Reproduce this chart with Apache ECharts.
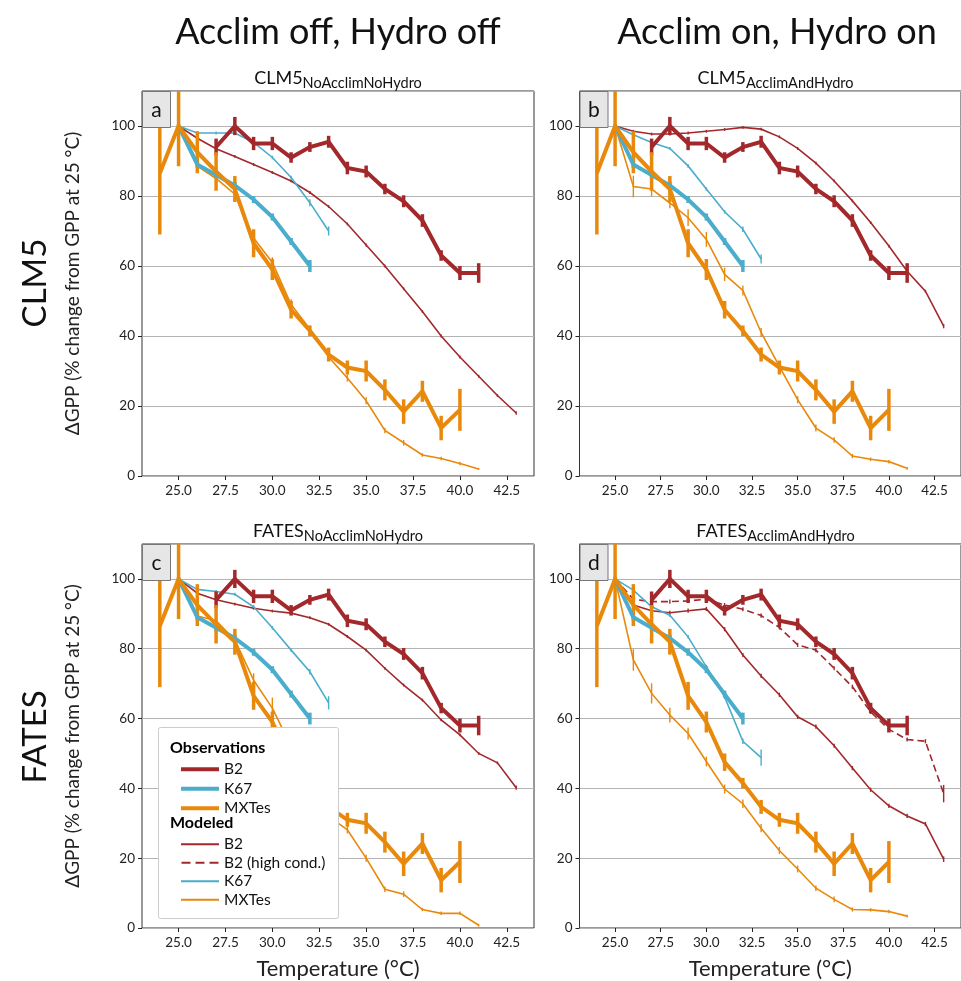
<!DOCTYPE html>
<html>
<head>
<meta charset="utf-8">
<script src="https://cdn.jsdelivr.net/npm/echarts@6/dist/echarts.min.js"></script>
<style>html,body{margin:0;padding:0;background:#fff}#c{width:961px;height:981px}</style>
</head>
<body>
<div id="c"></div>
<script>
// ---------- data ----------
const xTicks = [25, 27.5, 30, 32.5, 35, 37.5, 40, 42.5];
const yTicks = [0, 20, 40, 60, 80, 100];

// Observations (same in every panel)
const obsB2T = [27, 28, 29, 30, 31, 32, 33, 34, 35, 36, 37, 38, 39, 40, 41];
const obsB2 = [94, 100, 95, 95, 91, 94, 95.5, 88, 87, 82, 78.5, 73, 63, 58, 58];
const obsB2Err = [2.4, 2.6, 1.9, 1.9, 1.5, 1.4, 1.7, 1.8, 1.7, 1.5, 1.7, 1.8, 1.5, 2, 2.8];
const obsK67T = [25, 26, 27, 28, 29, 30, 31, 32];
const obsK67 = [100, 89, 86, 83, 79, 74, 67, 60];
const obsK67Err = [0.5, 1, 1, 1, 1, 1, 1, 1.7];
const obsMXT = [24, 25, 26, 27, 28, 29, 30, 31, 32, 33, 34, 35, 36, 37, 38, 39, 40];
const obsMX = [86.5, 100, 92.5, 87, 82, 66.5, 59, 47.5, 41.5, 34.7, 31, 30, 24.6, 18.4, 24.2, 13.7, 18.9];
const obsMXErr = [17.5, 11.5, 6, 5.5, 3.7, 4, 3, 2.5, 1.5, 2, 2, 3, 3, 3.5, 3, 3.5, 6];

// Modeled temperatures
const tB2 = [25, 26, 27, 28, 29, 30, 31, 32, 33, 34, 35, 36, 37, 38, 39, 40, 41, 42, 43];
const tK67 = [25, 26, 27, 28, 29, 30, 31, 32, 33];
const tMX = [25, 26, 27, 28, 29, 30, 31, 32, 33, 34, 35, 36, 37, 38, 39, 40, 41];

// Panel a: CLM5 NoAcclimNoHydro
const aB2 = [100, 96.5, 93.5, 91.3, 89, 86.7, 84.3, 81, 77, 72, 66, 60, 53.5, 47, 40, 34, 28.5, 23, 18];
const aB2Err = [0, 0.4, 0.4, 0.4, 0.4, 0.4, 0.4, 0.4, 0.4, 0.4, 0.4, 0.4, 0.4, 0.4, 0.4, 0.4, 0.4, 0.4, 0.5];
const aK67 = [100, 98, 98, 98, 95.3, 91, 85.3, 78.1, 70];
const aK67Err = [0, 0.4, 0.4, 0.4, 0.4, 0.5, 0.5, 1, 1.3];
const aMX = [100, 88.5, 85, 80.5, 68, 61, 49, 42, 34, 28, 21.5, 13, 9.5, 6, 5, 3.6, 2];
const aMXErr = [0, 1, 1, 1.5, 2, 1.5, 1.5, 1, 1, 1, 1, 0.8, 0.8, 0.5, 0.5, 0.5, 0.3];

// Panel b: CLM5 AcclimAndHydro
const bB2 = [100, 98.5, 97.7, 97.7, 98, 98.5, 99, 99.6, 99.1, 96.9, 93.6, 89.4, 84.3, 78.6, 72.4, 65.7, 58.5, 52.8, 42.8];
const bB2Err = [0, 0.4, 0.4, 0.4, 0.4, 0.4, 0.4, 0.4, 0.4, 0.4, 0.4, 0.4, 0.4, 0.4, 0.4, 0.4, 0.4, 0.4, 0.6];
const bK67 = [100, 97.5, 95.3, 93.6, 88.6, 82, 75.5, 70.5, 62];
const bK67Err = [0, 0.4, 0.4, 0.4, 0.5, 0.5, 0.5, 0.8, 1.3];
const bMX = [100, 82.7, 82, 78, 73.8, 67.6, 57.6, 53, 41, 31.3, 21.8, 13.7, 10.3, 5.7, 4.8, 4.1, 2.2];
const bMXErr = [0, 3.1, 2.1, 1.5, 2.4, 2.1, 1.9, 1.4, 1.3, 1, 1, 1, 0.8, 0.6, 0.5, 0.5, 0.4];

// Panel c: FATES NoAcclimNoHydro
const cB2 = [100, 95.9, 94, 92.8, 91.6, 90.8, 90.2, 88.9, 87, 83.5, 79.6, 74.4, 69.6, 65.3, 59.6, 55.3, 50, 47.3, 40.2];
const cB2Err = [0, 0.4, 0.4, 0.4, 0.4, 0.4, 0.4, 0.4, 0.4, 0.4, 0.4, 0.4, 0.4, 0.4, 0.4, 0.4, 0.4, 0.4, 0.6];
const cK67 = [100, 97, 96.4, 95.6, 92, 86, 79.6, 73.4, 64.5];
const cK67Err = [0, 0.4, 0.4, 0.4, 0.5, 0.5, 0.5, 0.8, 1.9];
const cMX = [100, 89.4, 88, 82.5, 71, 63, 52, 41, 32, 28.1, 20, 11.1, 9.7, 5.3, 4.2, 4.2, 0.8];
const cMXErr = [0, 1.5, 1.5, 1.5, 2, 3, 1.5, 1.5, 1.2, 1, 1, 0.8, 0.8, 0.5, 0.5, 0.5, 0.4];

// Panel d: FATES AcclimAndHydro
const dB2 = [100, 92.5, 90.9, 90.3, 90.9, 91.4, 85.6, 78.2, 72.2, 66.8, 60.5, 57.7, 52.2, 45.8, 39.6, 35, 32.1, 29.8, 19.7];
const dB2Err = [0, 0.6, 0.6, 0.6, 0.6, 0.6, 0.6, 0.6, 0.6, 0.6, 0.6, 0.6, 0.6, 0.6, 0.6, 0.6, 0.6, 0.6, 0.8];
const dB2hc = [100, 94.2, 93.5, 93.5, 93.7, 94.2, 92.5, 91.3, 89.5, 86.1, 81.1, 79.6, 74.4, 69.1, 61.9, 56.9, 54, 53.5, 38.5];
const dB2hcErr = [0, 0.6, 0.6, 0.6, 0.6, 0.6, 0.6, 0.6, 0.6, 0.6, 0.6, 0.6, 0.6, 0.6, 0.6, 0.6, 0.6, 0.6, 2.5];
const dK67 = [100, 96.8, 92, 89.6, 83.4, 74.8, 66.2, 53.5, 48.8];
const dK67Err = [0, 0.5, 0.5, 0.5, 0.5, 0.6, 0.6, 0.8, 2.3];
const dMX = [100, 76.8, 67.2, 61, 55.7, 47.7, 39.8, 35.6, 28.6, 22.2, 16.9, 11.4, 8.2, 5.3, 5.2, 4.7, 3.4];
const dMXErr = [0, 3.1, 2.9, 2.1, 1.7, 1.4, 1.3, 1.2, 1.2, 1, 1, 0.8, 0.8, 0.6, 0.5, 0.5, 0.4];

const colTitles = ['Acclim off, Hydro off', 'Acclim on, Hydro on'];
const rowTitles = ['CLM5', 'FATES'];
const panelModel = ['CLM5', 'CLM5', 'FATES', 'FATES'];
const panelSub = ['NoAcclimNoHydro', 'AcclimAndHydro', 'NoAcclimNoHydro', 'AcclimAndHydro'];
const panelLetters = ['a', 'b', 'c', 'd'];
const yName = 'ΔGPP (% change from GPP at 25 °C)';
const xName = 'Temperature (°C)';

// ---------- styling / layout ----------
const RED = '#a3282b', BLUE = '#4aadcb', ORANGE = '#e8890c';
const FONT = 'Lato';
const grids = [
  {left: 142, top: 91, width: 392, height: 385},
  {left: 579.5, top: 91, width: 392.5, height: 385},
  {left: 142, top: 544, width: 392, height: 384},
  {left: 579.5, top: 544, width: 392.5, height: 384}
];

const models = [
  {B2: aB2, B2e: aB2Err, K: aK67, Ke: aK67Err, M: aMX, Me: aMXErr},
  {B2: bB2, B2e: bB2Err, K: bK67, Ke: bK67Err, M: bMX, Me: bMXErr},
  {B2: cB2, B2e: cB2Err, K: cK67, Ke: cK67Err, M: cMX, Me: cMXErr},
  {B2: dB2, B2e: dB2Err, K: dK67, Ke: dK67Err, M: dMX, Me: dMXErr, HC: dB2hc, HCe: dB2hcErr}
];

function zip(t, v) { return t.map((x, i) => [x, v[i]]); }
function zip3(t, v, e) { return t.map((x, i) => [x, v[i], e[i]]); }

function lineSeries(name, gi, t, v, color, width, dashed, z) {
  return {
    type: 'line', name: name, xAxisIndex: gi, yAxisIndex: gi,
    data: zip(t, v), showSymbol: false, symbol: 'none', animation: false,
    lineStyle: {color: color, width: width, type: dashed ? [7, 4] : 'solid', cap: 'butt', join: 'miter'},
    itemStyle: {color: color}, z: z, clip: true, silent: true
  };
}
function errSeries(name, gi, t, v, e, color, width, z) {
  return {
    type: 'custom', name: name, xAxisIndex: gi, yAxisIndex: gi, clip: true, animation: false, silent: true, z: z,
    data: zip3(t, v, e),
    renderItem: function (params, api) {
      const x = api.value(0), y = api.value(1), err = api.value(2);
      if (!err) return null;
      const p1 = api.coord([x, y - err]);
      const p2 = api.coord([x, y + err]);
      return {type: 'line', shape: {x1: p1[0], y1: p1[1], x2: p2[0], y2: p2[1]},
        style: {stroke: color, lineWidth: width}};
    }
  };
}

const series = [];
const xAxes = [], yAxes = [];
grids.forEach((g, gi) => {
  const m = models[gi];
  // modeled
  series.push(lineSeries('Mod B2', gi, tB2, m.B2, RED, 1.6, false, 2));
  series.push(errSeries('Mod B2', gi, tB2, m.B2, m.B2e, RED, 1.4, 2));
  if (m.HC) {
    series.push(lineSeries('Mod B2 (high cond.)', gi, tB2, m.HC, RED, 1.6, true, 2));
    series.push(errSeries('Mod B2 (high cond.)', gi, tB2, m.HC, m.HCe, RED, 1.4, 2));
  }
  series.push(lineSeries('Mod K67', gi, tK67, m.K, BLUE, 1.6, false, 2));
  series.push(errSeries('Mod K67', gi, tK67, m.K, m.Ke, BLUE, 1.4, 2));
  series.push(lineSeries('Mod MXTes', gi, tMX, m.M, ORANGE, 1.6, false, 2));
  series.push(errSeries('Mod MXTes', gi, tMX, m.M, m.Me, ORANGE, 1.4, 2));
  // observations
  series.push(lineSeries('Obs B2', gi, obsB2T, obsB2, RED, 4, false, 3));
  series.push(errSeries('Obs B2', gi, obsB2T, obsB2, obsB2Err, RED, 3.5, 3));
  series.push(lineSeries('Obs K67', gi, obsK67T, obsK67, BLUE, 4, false, 3));
  series.push(errSeries('Obs K67', gi, obsK67T, obsK67, obsK67Err, BLUE, 3.5, 3));
  series.push(lineSeries('Obs MXTes', gi, obsMXT, obsMX, ORANGE, 4, false, 3));
  series.push(errSeries('Obs MXTes', gi, obsMXT, obsMX, obsMXErr, ORANGE, 3.5, 3));

  const bottomRow = gi >= 2, leftCol = gi % 2 === 0;
  xAxes.push({
    type: 'value', gridIndex: gi, min: 23.05, max: 43.95,
    axisLine: {show: false},
    axisTick: {show: true, length: 4, customValues: xTicks, lineStyle: {color: '#222', width: 1}},
    axisLabel: {customValues: xTicks, formatter: v => v.toFixed(1), fontFamily: FONT, fontSize: 13.5, color: '#222', margin: 8},
    splitLine: {show: false},
    name: bottomRow ? xName : '', nameLocation: 'middle', nameGap: 30,
    nameTextStyle: {fontFamily: FONT, fontSize: 22, color: '#222'}
  });
  yAxes.push({
    type: 'value', gridIndex: gi, min: 0, max: 110, interval: 20,
    axisLine: {show: false},
    axisTick: {show: true, length: 4, lineStyle: {color: '#222', width: 1}},
    axisLabel: {fontFamily: FONT, fontSize: 13.5, color: '#222', margin: 7, showMaxLabel: false},
    splitLine: {show: true, lineStyle: {color: '#b4b4b4', width: 1.2}},
    name: leftCol ? yName : '', nameLocation: 'middle', nameGap: 60, nameRotate: 90,
    nameTextStyle: {fontFamily: FONT, fontSize: 19, color: '#222'}
  });
});

// titles / labels as graphic elements
const graphics = [];
colTitles.forEach((t, i) => {
  const cx = i === 0 ? 338 : 777;
  graphics.push({type: 'text', x: cx, y: 32, z: 10,
    style: {text: t, fontFamily: FONT, fontSize: 36, fill: '#111', align: 'center', verticalAlign: 'middle'}});
});
rowTitles.forEach((t, i) => {
  const cy = i === 0 ? 283 : 737;
  graphics.push({type: 'text', x: 35, y: cy, rotation: Math.PI / 2, z: 10,
    style: {text: t, fontFamily: FONT, fontSize: 33, fill: '#111', align: 'center', verticalAlign: 'middle'}});
});
grids.forEach((g, gi) => {
  graphics.push({type: 'text', x: g.left + 196, y: g.top - 13, z: 10,
    style: {text: '{m|' + panelModel[gi] + '}{s|' + panelSub[gi] + '}', align: 'center', verticalAlign: 'middle',
      rich: {m: {fontFamily: FONT, fontSize: 18, fill: '#111', lineHeight: 26, verticalAlign: 'middle'},
             s: {fontFamily: FONT, fontSize: 14.5, fill: '#111', lineHeight: 14, verticalAlign: 'bottom'}}}});
  graphics.push({type: 'rect', shape: {x: g.left + 0.5, y: g.top + 0.5, width: 28, height: 36}, z: 10,
    style: {fill: '#e6e6e6', stroke: '#777', lineWidth: 1}});
  graphics.push({type: 'text', x: g.left + 14.5, y: g.top + 19, z: 11,
    style: {text: panelLetters[gi], fontFamily: FONT, fontSize: 21, fill: '#111', align: 'center', verticalAlign: 'middle'}});
});
// legend frame & headers
graphics.push({type: 'rect', shape: {x: 158.5, y: 727.5, width: 180, height: 191, r: 2}, z: 5,
  style: {fill: '#fff', stroke: '#ccc', lineWidth: 1}});
graphics.push({type: 'text', x: 170, y: 748, z: 10,
  style: {text: 'Observations', fontFamily: FONT, fontWeight: 'bold', fontSize: 16, fill: '#000', verticalAlign: 'middle'}});
graphics.push({type: 'text', x: 170, y: 823, z: 10,
  style: {text: 'Modeled', fontFamily: FONT, fontWeight: 'bold', fontSize: 16, fill: '#000', verticalAlign: 'middle'}});

const legendFmt = n => n.replace(/^(Obs|Mod) /, '');
const dashIcon = 'path://M0,0h9v2h-9zM14,0h9v2h-9zM28,0h9v2h-9z';

const option = {
  backgroundColor: '#fff',
  animation: false,
  grid: grids.map(g => Object.assign({show: true, borderColor: '#333', borderWidth: 1, backgroundColor: 'transparent', containLabel: false}, g)),
  xAxis: xAxes,
  yAxis: yAxes,
  legend: [
    {orient: 'vertical', left: 176, top: 754.5, itemWidth: 38, itemHeight: 4, itemGap: 0, selectedMode: false, z: 8,
      formatter: legendFmt, textStyle: {fontFamily: FONT, fontSize: 15.5, color: '#111', lineHeight: 19.5},
      data: [
        {name: 'Obs B2', icon: 'rect', itemStyle: {color: RED}},
        {name: 'Obs K67', icon: 'rect', itemStyle: {color: BLUE}},
        {name: 'Obs MXTes', icon: 'rect', itemStyle: {color: ORANGE}}
      ]},
    {orient: 'vertical', left: 176, top: 830, itemWidth: 38, itemHeight: 2, itemGap: 0, selectedMode: false, z: 8,
      formatter: legendFmt, textStyle: {fontFamily: FONT, fontSize: 15.5, color: '#111', lineHeight: 18.5},
      data: [
        {name: 'Mod B2', icon: 'rect', itemStyle: {color: RED}},
        {name: 'Mod B2 (high cond.)', icon: dashIcon, itemStyle: {color: RED}},
        {name: 'Mod K67', icon: 'rect', itemStyle: {color: BLUE}},
        {name: 'Mod MXTes', icon: 'rect', itemStyle: {color: ORANGE}}
      ]}
  ],
  graphic: graphics,
  series: series
};

const chart = echarts.init(document.getElementById('c'), null, {renderer: 'canvas'});
chart.setOption(option);
</script>
</body>
</html>
